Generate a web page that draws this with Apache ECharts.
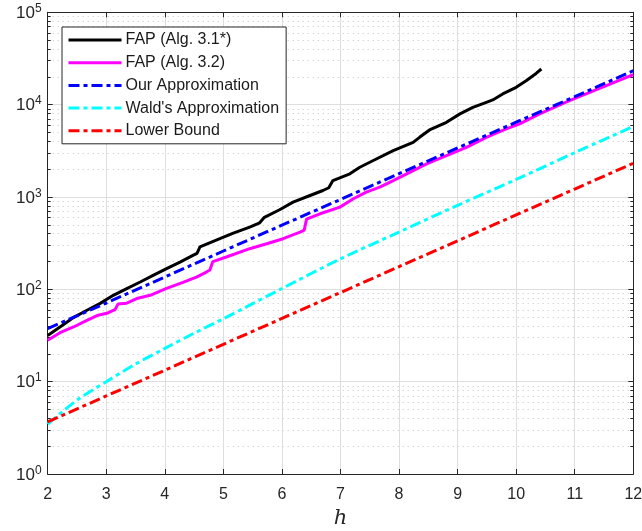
<!DOCTYPE html>
<html>
<head>
<meta charset="utf-8">
<script src="https://cdn.jsdelivr.net/npm/echarts@6/dist/echarts.min.js"></script>
<style>html,body{margin:0;padding:0;background:#fff}#c{width:642px;height:531px}</style>
</head>
<body>
<div id="c"></div>
<script>
// ---- data ----
const xTicks = [2, 3, 4, 5, 6, 7, 8, 9, 10, 11, 12];
const yTicks = [1, 10, 100, 1000, 10000, 100000];

const fap31H = [2.0, 2.21, 2.44, 2.67, 2.89, 3.12, 3.35, 3.58, 3.80, 4.03, 4.26, 4.48, 4.55, 4.60, 4.94, 5.17, 5.45, 5.62, 5.70, 5.96, 6.19, 6.48, 6.70, 6.80, 6.87, 7.16, 7.33, 7.56, 7.90, 8.24, 8.35, 8.52, 8.81, 9.04, 9.26, 9.49, 9.60, 9.77, 10.0, 10.17, 10.34, 10.43];
const fap31V = [31.6, 39.1, 49.4, 59.3, 70.0, 86.1, 101.9, 120, 141.6, 167.5, 197.2, 233.3, 245.5, 288.4, 353.2, 406.4, 472.1, 524.8, 602.6, 727.8, 879, 1038, 1175, 1259, 1507, 1782, 2099, 2483, 3184, 3908, 4426, 5321, 6442, 7943, 9333, 10593, 11246, 13062, 15382, 18155, 21777, 24322];

const fap32H = [2.0, 2.21, 2.44, 2.67, 2.86, 3.01, 3.15, 3.20, 3.35, 3.52, 3.75, 4.03, 4.31, 4.54, 4.71, 4.77, 4.82, 5.05, 5.45, 5.74, 6.02, 6.31, 6.38, 6.42, 6.65, 6.99, 7.22, 7.44, 7.67, 7.90, 8.13, 8.47, 8.81, 9.15, 9.49, 9.83, 10.06, 10.40, 10.91, 12.0];
const fap32V = [28.1, 33.9, 39.1, 46.2, 52.4, 55.0, 60.3, 69.2, 70.8, 79.4, 86.1, 102.3, 118.9, 135.8, 153.8, 162.2, 199.5, 223.9, 275.4, 311.9, 353.2, 415.9, 436.5, 575.4, 657.7, 776.2, 957.2, 1127, 1276, 1507, 1782, 2286, 2812, 3451, 4426, 5458, 6180, 7943, 11041, 21086];

const ourH = [2, 3, 4, 5, 6, 7, 8, 9, 10, 11, 12];
const ourV = [37.6, 71, 136, 260, 495, 940, 1790, 3400, 6450, 12200, 23300];

const waldH = [2, 2.5, 3, 3.5, 4, 4.5, 5, 6, 7, 8, 9, 10, 11, 12];
const waldV = [3.47, 6.3, 10, 15.5, 22.9, 33.5, 48, 102, 214, 417, 813, 1549, 3020, 5800];

const lowH = [2, 3, 4, 5, 6, 7, 8, 9, 10, 11, 12];
const lowV = [3.67, 7.0, 13.3, 25.4, 48.4, 92.3, 176, 335, 640, 1220, 2320];

const names = ['FAP (Alg. 3.1*)', 'FAP (Alg. 3.2)', 'Our Approximation', "Wald's Approximation", 'Lower Bound'];

// ---- build ----
const pairs = (h, v) => h.map((x, i) => [x, v[i]]);

const FONT = '"Liberation Sans", Arial, sans-serif';
const AX = '#262626';
const dashDot = [11, 4, 4, 4];

const chart = echarts.init(document.getElementById('c'), null, {renderer: 'canvas'});
chart.setOption({
  animation: false,
  backgroundColor: '#fff',
  textStyle: {fontFamily: FONT},
  grid: {left: 47.7, right: 8.7, top: 12.3, bottom: 57, containLabel: false, outerBoundsMode: 'none'},
  legend: {
    data: names,
    orient: 'vertical',
    left: 62, top: 27,
    padding: [5, 7, 5, 5],
    itemWidth: 53, itemHeight: 16, itemGap: 6.7,
    backgroundColor: '#fff',
    borderColor: AX, borderWidth: 1,
    itemStyle: {opacity: 0, borderWidth: 0},
    lineStyle: {width: 3},
    textStyle: {fontFamily: FONT, fontSize: 16, color: '#1a1a1a', padding: [0, 0, 0, -1]}
  },
  xAxis: [{
    type: 'value', min: 2, max: 12, interval: 1,
    name: 'h', nameLocation: 'middle', nameGap: 33,
    nameTextStyle: {fontFamily: '"DejaVu Serif", "Liberation Serif", serif', fontStyle: 'italic', fontSize: 21, color: AX},
    axisLine: {show: true, lineStyle: {color: AX, width: 1}},
    axisTick: {show: true, inside: true, length: 5, lineStyle: {color: AX}},
    axisLabel: {fontFamily: FONT, fontSize: 16, color: AX, margin: 13,
      formatter: v => xTicks.includes(v) ? String(v) : ''},
    splitLine: {show: true, lineStyle: {color: '#dedede', width: 1}}
  }, {
    type: 'value', min: 2, max: 12, interval: 1, position: 'top',
    axisLine: {show: true, onZero: false, lineStyle: {color: AX, width: 1}},
    axisTick: {show: true, inside: true, length: 5, lineStyle: {color: AX}},
    axisLabel: {show: false}, splitLine: {show: false}
  }],
  yAxis: [{
    type: 'log', logBase: 10, min: 1, max: 100000, interval: 1,
    axisLine: {show: true, onZero: false, lineStyle: {color: AX, width: 1}},
    axisTick: {show: true, inside: true, length: 5, lineStyle: {color: AX}},
    minorTick: {show: true, splitNumber: 9, length: 3, lineStyle: {color: AX}},
    minorSplitLine: {show: true, lineStyle: {color: '#c4c4c4', type: [1, 4], width: 1}},
    axisLabel: {
      margin: 6, color: AX,
      formatter: v => {
        if (!yTicks.includes(v)) return '';
        return '{b|10}{s|' + Math.round(Math.log10(v)) + '}';
      },
      rich: {
        b: {fontFamily: FONT, fontSize: 17, color: AX, verticalAlign: 'bottom', lineHeight: 19},
        s: {fontFamily: FONT, fontSize: 12, color: AX, verticalAlign: 'top', padding: [0, 0, 10, 0], lineHeight: 19}
      }
    },
    splitLine: {show: true, lineStyle: {color: '#dedede', width: 1}}
  }, {
    type: 'log', logBase: 10, min: 1, max: 100000, interval: 1, position: 'right',
    axisLine: {show: true, onZero: false, lineStyle: {color: AX, width: 1}},
    axisTick: {show: true, inside: true, length: 5, lineStyle: {color: AX}},
    minorTick: {show: true, splitNumber: 9, length: 3, lineStyle: {color: AX}},
    axisLabel: {show: false}, splitLine: {show: false}
  }],
  series: [
    {name: names[0], type: 'line', data: pairs(fap31H, fap31V), symbol: 'none', z: 5,
      lineStyle: {color: '#000000', width: 3}, itemStyle: {color: '#000000'}},
    {name: names[1], type: 'line', data: pairs(fap32H, fap32V), symbol: 'none', z: 4,
      lineStyle: {color: '#ff00ff', width: 3}, itemStyle: {color: '#ff00ff'}},
    {name: names[2], type: 'line', data: pairs(ourH, ourV), symbol: 'none', z: 6,
      lineStyle: {color: '#0000ff', width: 3, type: dashDot}, itemStyle: {color: '#0000ff'}},
    {name: names[3], type: 'line', data: pairs(waldH, waldV), symbol: 'none', smooth: 0.3, z: 4,
      lineStyle: {color: '#00ffff', width: 3, type: dashDot}, itemStyle: {color: '#00ffff'}},
    {name: names[4], type: 'line', data: pairs(lowH, lowV), symbol: 'none', z: 4,
      lineStyle: {color: '#ff0000', width: 3, type: dashDot}, itemStyle: {color: '#ff0000'}}
  ]
});
</script>
</body>
</html>
